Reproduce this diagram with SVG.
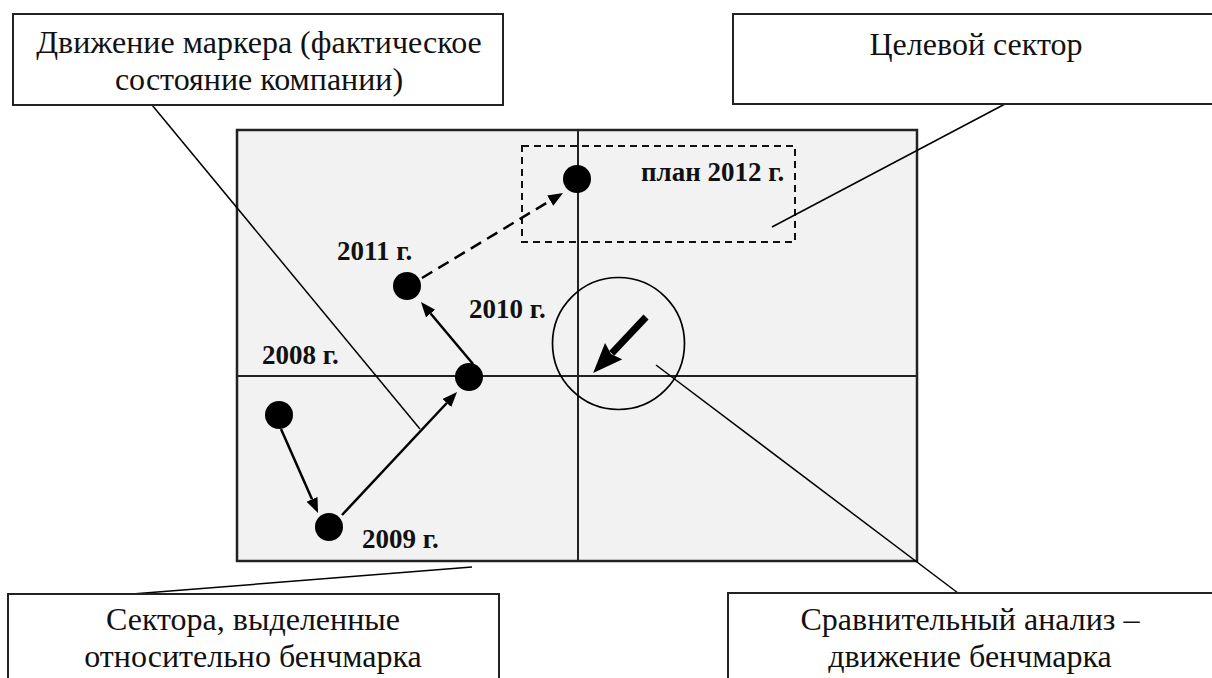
<svg xmlns="http://www.w3.org/2000/svg" width="1212" height="678" viewBox="0 0 1212 678">
<style>
.box{fill:#fff;stroke:#222;stroke-width:2}
.ct{font-family:"Liberation Serif","Times New Roman",serif;font-size:32px;fill:#111;text-anchor:middle}
.yr{font-family:"Liberation Serif","Times New Roman",serif;font-size:27px;font-weight:bold;fill:#111}
.ax{stroke:#222;stroke-width:2;fill:none}
.dot{fill:#000}
.arr{stroke:#000;stroke-width:2.5;fill:none;marker-end:url(#ah)}
.call{stroke:#000;stroke-width:1.5;fill:none}
</style>
<defs>
<marker id="ah" markerUnits="userSpaceOnUse" markerWidth="16" markerHeight="13" refX="0" refY="6" orient="auto">
<path d="M0,0 L15,6 L0,12 z" fill="#000"/>
</marker>
<marker id="ahb" markerUnits="userSpaceOnUse" markerWidth="32" markerHeight="26" refX="3" refY="12" orient="auto">
<path d="M0,0 L30,12 L0,24 L4,12 z" fill="#000"/>
</marker>
</defs>
<g id="field">
<rect x="237" y="130" width="680" height="431" fill="#f2f2f2" stroke="#222" stroke-width="2.5"/>
<line class="ax" x1="578" y1="130" x2="578" y2="561"/>
<line class="ax" x1="237" y1="376" x2="917" y2="376"/>
</g>
<g id="target-sector">
<rect x="522" y="146" width="273" height="96" fill="none" stroke="#111" stroke-width="2" stroke-dasharray="7,5"/>
</g>
<g id="benchmark-circle">
<circle cx="618.5" cy="343.5" r="66" fill="none" stroke="#000" stroke-width="1.7"/>
<line x1="646" y1="317" x2="611.7" y2="353.3" stroke="#000" stroke-width="7" marker-end="url(#ahb)"/>
</g>
<g id="connectors">
<line class="arr" x1="281" y1="429" x2="312" y2="499.3"/>
<line class="arr" x1="342" y1="515" x2="446.8" y2="403"/>
<line class="arr" x1="473" y1="364" x2="430.6" y2="313.5"/>
<line class="arr" x1="422" y1="278" x2="550.2" y2="200.7" stroke-dasharray="12,7"/>
<line class="call" x1="152" y1="105" x2="420" y2="429"/>
<line class="call" x1="1005" y1="104" x2="772" y2="227"/>
<line class="call" x1="656" y1="365" x2="958" y2="593"/>
<line class="call" x1="472" y1="567" x2="132" y2="594"/>
</g>
<g id="p2008"><circle class="dot" cx="279" cy="415" r="14"/><text class="yr" x="262" y="364">2008 г.</text></g>
<g id="p2009"><circle class="dot" cx="329" cy="527" r="14"/><text class="yr" x="362" y="548">2009 г.</text></g>
<g id="p2010"><circle class="dot" cx="469" cy="377" r="14"/><text class="yr" x="469" y="318">2010 г.</text></g>
<g id="p2011"><circle class="dot" cx="407" cy="286" r="14"/><text class="yr" x="337" y="260">2011 г.</text></g>
<g id="p2012"><circle class="dot" cx="577" cy="179" r="14"/><text class="yr" x="641" y="181">план 2012 г.</text></g>
<g id="box-marker">
<rect class="box" x="13" y="14" width="490" height="91"/>
<text class="ct" x="259" y="53">Движение маркера (фактическое</text>
<text class="ct" x="259" y="90">состояние компании)</text>
</g>
<g id="box-target">
<rect class="box" x="733" y="14" width="490" height="90"/>
<text class="ct" x="976" y="55">Целевой сектор</text>
</g>
<g id="box-sectors">
<rect class="box" x="8" y="594" width="491" height="100"/>
<text class="ct" x="253" y="630">Сектора, выделенные</text>
<text class="ct" x="253" y="667">относительно бенчмарка</text>
</g>
<g id="box-benchmark">
<rect class="box" x="728" y="593" width="490" height="100"/>
<text class="ct" x="970" y="630">Сравнительный анализ –</text>
<text class="ct" x="970" y="667">движение бенчмарка</text>
</g>
</svg>
